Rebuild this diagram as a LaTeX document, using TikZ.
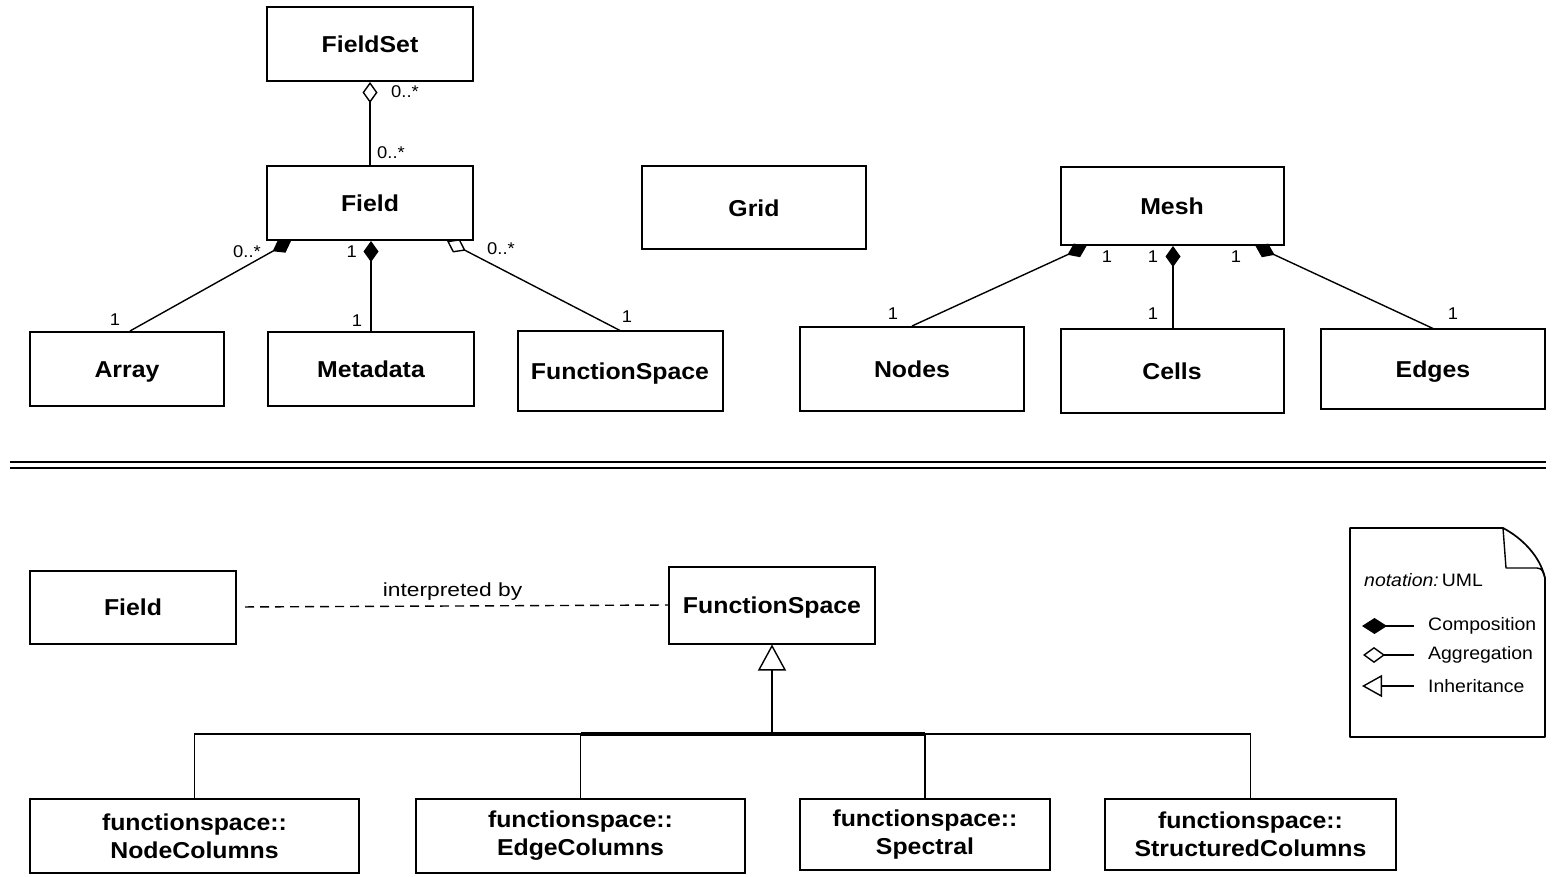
\documentclass[tikz,border=0pt]{standalone}
\usepackage{fontspec}
\setmainfont{Liberation Sans}[FakeStretch=1.08]
\newfontfamily\widefont{Liberation Sans}[FakeStretch=1.2]
\usetikzlibrary{arrows.meta}
\begin{document}
\begin{tikzpicture}[x=1pt,y=-1pt,
  cls/.style={draw,line width=2pt,inner sep=0pt,font=\fontsize{23}{28}\selectfont\bfseries,align=center},
  one/.style={cls,text height=16.5pt,text depth=0pt},
  conn/.style={line width=1.4pt},
  mult/.style={font=\fontsize{17}{19}\selectfont,inner sep=1pt},
  comp/.style={conn,{Diamond[length=21pt,width=15pt]}-},
  aggr/.style={conn,{Diamond[open,length=21pt,width=15pt,line width=1.4pt]}-},
  legtxt/.style={font=\fontsize{18}{20}\selectfont,anchor=west,inner sep=0pt}
]
\useasboundingbox (0,0) rectangle (1556,877);

% top classes
\node[one,minimum width=206pt,minimum height=74pt] (fieldset) at (370,44) {FieldSet};
\node[one,minimum width=206pt,minimum height=74pt] (field) at (370,203) {Field};
\node[one,minimum width=224pt,minimum height=83pt] (grid) at (754,208) {Grid};
\node[one,minimum width=223pt,minimum height=78pt] (mesh) at (1172,206) {Mesh};
\node[one,minimum width=194pt,minimum height=74pt] (array) at (127,369) {Array};
\node[one,minimum width=206pt,minimum height=74pt] (meta) at (371,369) {Metadata};
\node[one,minimum width=205pt,minimum height=79pt] (fst) at (620,371) {FunctionSpace};
\node[one,minimum width=224pt,minimum height=84pt] (nodes) at (912,369) {Nodes};
\node[one,minimum width=223pt,minimum height=84pt] (cells) at (1172,371) {Cells};
\node[one,minimum width=224pt,minimum height=79pt] (edges) at (1433,369) {Edges};

% top connectors
\draw[aggr] (fieldset.south) -- (field.north);
\node[mult,anchor=west] at (390,92) {0..*};
\node[mult,anchor=west] at (376,153) {0..*};

\draw[comp] ([xshift=25pt]field.south west) -- ([xshift=3pt]array.north);
\node[mult,anchor=east] at (262,252) {0..*};
\node[mult] at (115,320) {1};

\draw[comp] ([xshift=1pt]field.south) -- (meta.north);
\node[mult,anchor=east] at (358,252) {1};
\node[mult] at (357,321) {1};

\draw[aggr] ([xshift=-27pt]field.south east) -- (fst.north);
\node[mult,anchor=west] at (486,249) {0..*};
\node[mult] at (627,317) {1};

\draw[comp] ([xshift=27pt]mesh.south west) -- (nodes.north);
\node[mult] at (1107,257) {1};
\node[mult] at (893,314) {1};

\draw[comp] ([xshift=1pt]mesh.south) -- ([xshift=1pt]cells.north);
\node[mult] at (1153,257) {1};
\node[mult] at (1153,314) {1};

\draw[comp] ([xshift=-29pt]mesh.south east) -- (edges.north);
\node[mult] at (1236,257) {1};
\node[mult] at (1453,314) {1};

% separator
\coordinate (sepL) at (10,462);
\coordinate (sepR) at (1546,462);
\draw[line width=1.3pt] (sepL) -- (sepR);
\draw[line width=1.3pt] ([yshift=-6pt]sepL) -- ([yshift=-6pt]sepR);

% bottom part
\node[one,minimum width=206pt,minimum height=73pt] (fieldb) at (133,607) {Field};
\node[one,minimum width=206pt,minimum height=77pt] (fsb) at (772,605) {FunctionSpace};
\draw[conn,dashed,dash pattern=on 9pt off 6pt,shorten <=8pt] (fieldb.east) -- (fsb.west)
  node[midway,above=5pt,font=\widefont\fontsize{19}{22}\selectfont,inner sep=0pt] {interpreted by};

\node[cls,minimum width=329pt,minimum height=74pt] (nc) at (194.5,836) {functionspace::\\NodeColumns};
\node[cls,minimum width=329pt,minimum height=74pt] (ec) at (580.5,836) {functionspace::\\EdgeColumns};
\node[cls,minimum width=250pt,minimum height=71pt] (sp) at (925,834.5) {functionspace::\\Spectral};
\node[cls,minimum width=291pt,minimum height=71pt] (sc) at (1250.5,834.5) {functionspace::\\StructuredColumns};

\coordinate (junc) at (772,734);
\draw[conn,-{Triangle[open,length=26pt,width=28pt,line width=1.4pt]}] (junc) -- (fsb.south);
\draw[conn] (nc.north) -- (nc.north |- junc) -- (sc.north |- junc) -- (sc.north);
\draw[line width=4pt] (ec.north |- junc) -- (sp.north |- junc);
\draw[conn] (ec.north) -- (ec.north |- junc);
\draw[conn] (sp.north) -- (sp.north |- junc);

% legend note
\draw[line width=1.7pt,line join=round] (1350,528) -- (1503,528)
  .. controls (1522,538) and (1540,556) .. (1545,578) -- (1545,737) -- (1350,737) -- cycle;
\draw[line width=1.4pt,line join=round] (1503,528) -- (1506,568) -- (1537,568)
  .. controls (1542,569) .. (1545,578);
\node[legtxt] (notation) at (1364,580) {{\itshape notation:}\,UML};

\coordinate (c1) at (1362,626);
\coordinate (c2) at (1414,626);
\coordinate (a1) at (1363,655);
\coordinate (a2) at (1414,655);
\coordinate (i1) at (1362,686);
\coordinate (i2) at (1414,686);
\draw[conn,{Diamond[length=25pt,width=16pt]}-] (c1) -- (c2);
\draw[conn,{Diamond[open,length=22pt,width=16pt,line width=1.4pt]}-] (a1) -- (a2);
\draw[conn,{Triangle[open,length=20pt,width=22pt,line width=1.4pt]}-] (i1) -- (i2);
\node[legtxt] at (1428,626) {Composition};
\node[legtxt] at (1428,655) {Aggregation};
\node[legtxt] at (1428,686) {Inheritance};
\end{tikzpicture}
\end{document}
